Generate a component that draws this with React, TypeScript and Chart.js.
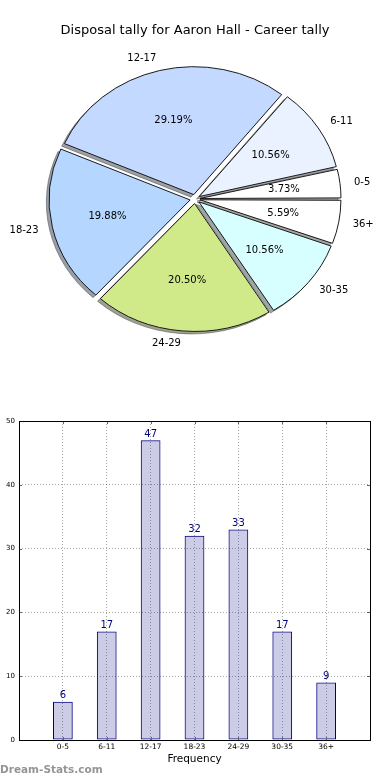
import React, { useEffect, useRef } from 'react';
import { Chart, registerables } from 'chart.js';

Chart.register(...registerables);

// ---- data ----
const categories = ['0-5', '6-11', '12-17', '18-23', '24-29', '30-35', '36+'];
const frequencies = [6, 17, 47, 32, 33, 17, 9];
const sliceColors = ['#ffffff', '#eaf2ff', '#c4d9ff', '#b4d6ff', '#d0ea8a', '#d8ffff', '#ffffff'];
const yTickValues = [0, 10, 20, 30, 40, 50];
const chartTitle = 'Disposal tally for Aaron Hall - Career tally';
const xAxisTitle = 'Frequency';
const watermark = 'Dream-Stats.com';

// ---- styling constants ----
const FONT = '"DejaVu Sans", Verdana, sans-serif';
const PIE_R = 141;
const PIE_SY = 0.907;
const EXPLODE = 5;
const SHADOW = 2.8;

const total = frequencies.reduce((a, b) => a + b, 0);

function shadowColor(hex: string) {
  const r = parseInt(hex.slice(1, 3), 16);
  const g = parseInt(hex.slice(3, 5), 16);
  const b = parseInt(hex.slice(5, 7), 16);
  return `rgba(${Math.round(r * 0.3)},${Math.round(g * 0.3)},${Math.round(b * 0.3)},0.5)`;
}

// pie data is drawn clockwise in Chart.js, matplotlib draws counter-clockwise
const pieLabels = [...categories].reverse();
const pieValues = [...frequencies].reverse();
const pieColors = [...sliceColors].reverse();

const piePlugin = {
  id: 'piePlugin',
  afterDatasetsUpdate(chart: any) {
    const meta = chart.getDatasetMeta(0);
    meta.data.forEach((arc: any) => {
      const fix = 1 - Math.sin(Math.min(Math.PI, arc.circumference || 0));
      arc.outerRadius = PIE_R - EXPLODE * fix;
    });
  },
  beforeDatasetsDraw(chart: any) {
    const ctx = chart.ctx;
    const meta = chart.getDatasetMeta(0);
    const a0: any = meta.data[0];
    const cx = a0.x;
    const cy = a0.y;
    ctx.save();
    ctx.translate(cx, cy);
    ctx.scale(1, PIE_SY);
    ctx.translate(-cx, -cy);
    meta.data.forEach((arc: any, i: number) => {
      const mid = (arc.startAngle + arc.endAngle) / 2;
      const x = arc.x + Math.cos(mid) * EXPLODE - SHADOW;
      const y = arc.y + Math.sin(mid) * EXPLODE + SHADOW;
      const col = shadowColor(pieColors[i]);
      ctx.beginPath();
      ctx.moveTo(x, y);
      ctx.arc(x, y, PIE_R, arc.startAngle, arc.endAngle);
      ctx.closePath();
      ctx.fillStyle = col;
      ctx.fill();
      ctx.lineWidth = 1;
      ctx.strokeStyle = col;
      ctx.stroke();
    });
  },
  afterDatasetsDraw(chart: any) {
    const ctx = chart.ctx;
    ctx.restore();
    const meta = chart.getDatasetMeta(0);
    ctx.save();
    ctx.fillStyle = '#000';
    ctx.font = `10px ${FONT}`;
    ctx.textBaseline = 'middle';
    meta.data.forEach((arc: any, i: number) => {
      const mid = (arc.startAngle + arc.endAngle) / 2;
      const c = Math.cos(mid);
      const s = Math.sin(mid);
      const lx = arc.x + (EXPLODE + 1.1 * PIE_R) * c;
      const ly = arc.y + (EXPLODE + 1.1 * PIE_R) * s * PIE_SY;
      ctx.textAlign = c > 0 ? 'left' : 'right';
      ctx.fillText(pieLabels[i], lx, ly);
      const px = arc.x + (EXPLODE + 0.6 * PIE_R) * c;
      const py = arc.y + (EXPLODE + 0.6 * PIE_R) * s * PIE_SY;
      ctx.textAlign = 'center';
      ctx.fillText(((pieValues[i] / total) * 100).toFixed(2) + '%', px, py);
    });
    ctx.font = `13px ${FONT}`;
    ctx.textAlign = 'center';
    ctx.fillText(chartTitle, 195, 31);
    ctx.restore();
  },
};

const barPlugin = {
  id: 'barPlugin',
  afterDatasetsDraw(chart: any) {
    const ctx = chart.ctx;
    const meta = chart.getDatasetMeta(0);
    const { left, right, top, bottom } = chart.chartArea;
    ctx.save();
    ctx.font = `10px ${FONT}`;
    ctx.fillStyle = '#000080';
    ctx.textAlign = 'center';
    ctx.textBaseline = 'bottom';
    meta.data.forEach((bar: any, i: number) => {
      ctx.fillText(String(frequencies[i]), bar.x, bar.y - 1);
    });
    // tick marks (inward)
    ctx.strokeStyle = '#666';
    ctx.lineWidth = 1;
    const ys = chart.scales.y;
    const xs = chart.scales.x;
    ctx.beginPath();
    yTickValues.forEach((v) => {
      const py = Math.round(ys.getPixelForValue(v)) + 0.5;
      ctx.moveTo(left, py);
      ctx.lineTo(left + 3, py);
      ctx.moveTo(right, py);
      ctx.lineTo(right - 3, py);
    });
    categories.forEach((_, i) => {
      const px = Math.round(xs.getPixelForValue(i)) + 0.5;
      ctx.moveTo(px, bottom);
      ctx.lineTo(px, bottom - 3);
      ctx.moveTo(px, top);
      ctx.lineTo(px, top + 3);
    });
    ctx.stroke();
    // frame
    ctx.strokeStyle = '#000';
    ctx.strokeRect(Math.round(left) + 0.5, Math.round(top) + 0.5, Math.round(right - left), Math.round(bottom - top));
    // watermark
    ctx.font = `bold 10.5px ${FONT}`;
    ctx.fillStyle = '#959595';
    ctx.textAlign = 'left';
    ctx.textBaseline = 'middle';
    ctx.fillText(watermark, 0, 370);
    ctx.restore();
  },
};

export default function App() {
  const pieRef = useRef<HTMLCanvasElement>(null);
  const barRef = useRef<HTMLCanvasElement>(null);

  useEffect(() => {
    document.body.style.margin = '0';
    const pie = new Chart(pieRef.current as HTMLCanvasElement, {
      type: 'pie',
      data: {
        labels: pieLabels,
        datasets: [
          {
            data: pieValues,
            backgroundColor: pieColors,
            borderColor: '#111',
            borderWidth: 1,
            offset: EXPLODE * 4,
            radius: PIE_R,
          } as any,
        ],
      },
      options: {
        animation: false,
        responsive: false,
        events: [],
        rotation: 90,
        layout: { padding: { left: 0, right: 0, top: 0, bottom: 0 } },
        plugins: { legend: { display: false }, tooltip: { enabled: false }, title: { display: false } },
      } as any,
      plugins: [piePlugin as any],
    });

    const tickFont = { family: FONT, size: 7.5 };
    const bar = new Chart(barRef.current as HTMLCanvasElement, {
      type: 'bar',
      data: {
        datasets: [
          {
            data: categories.map((_, i) => ({ x: i, y: frequencies[i] })),
            backgroundColor: 'rgba(0,0,128,0.2)',
            borderColor: '#000080',
            borderWidth: 1,
            borderSkipped: false,
            barPercentage: 0.45,
            categoryPercentage: 1,
          } as any,
        ],
      },
      options: {
        animation: false,
        responsive: false,
        events: [],
        layout: { padding: { top: 21, right: 20, left: 0, bottom: 0 } },
        plugins: { legend: { display: false }, tooltip: { enabled: false } },
        scales: {
          x: {
            type: 'linear',
            min: -1,
            max: 7,
            offset: false,
            ticks: {
              stepSize: 1,
              autoSkip: false,
              maxRotation: 0,
              padding: 3,
              color: '#000',
              font: tickFont,
              callback: (v: any) => (categories[v] !== undefined ? categories[v] : ''),
            },
            grid: { color: 'rgba(0,0,0,0.35)', drawTicks: false, offset: false },
            border: { display: false, dash: [1, 2] },
            title: {
              display: true,
              text: xAxisTitle,
              color: '#000',
              font: { family: FONT, size: 10.5 },
              padding: { top: 0, bottom: 14 },
            },
            afterFit: (s: any) => {
              s.height = 40;
            },
          },
          y: {
            min: 0,
            max: 50,
            ticks: {
              stepSize: 10,
              padding: 4,
              color: '#000',
              font: { family: FONT, size: 7 },
              callback: (v: any) => (yTickValues.includes(v) ? String(v) : ''),
            },
            grid: { color: 'rgba(0,0,0,0.35)', drawTicks: false },
            border: { display: false, dash: [1, 2] },
            afterFit: (s: any) => {
              s.width = 19;
            },
          },
        },
      } as any,
      plugins: [barPlugin as any],
    });

    return () => {
      pie.destroy();
      bar.destroy();
    };
  }, []);

  return (
    <div style={{ position: 'absolute', left: 0, top: 0, width: 390, height: 780, background: '#fff', overflow: 'hidden' }}>
      <canvas ref={pieRef} width={390} height={398} style={{ position: 'absolute', left: 0, top: 0, display: 'block' }} />
      <canvas ref={barRef} width={390} height={380} style={{ position: 'absolute', left: 0, top: 400, display: 'block' }} />
    </div>
  );
}
